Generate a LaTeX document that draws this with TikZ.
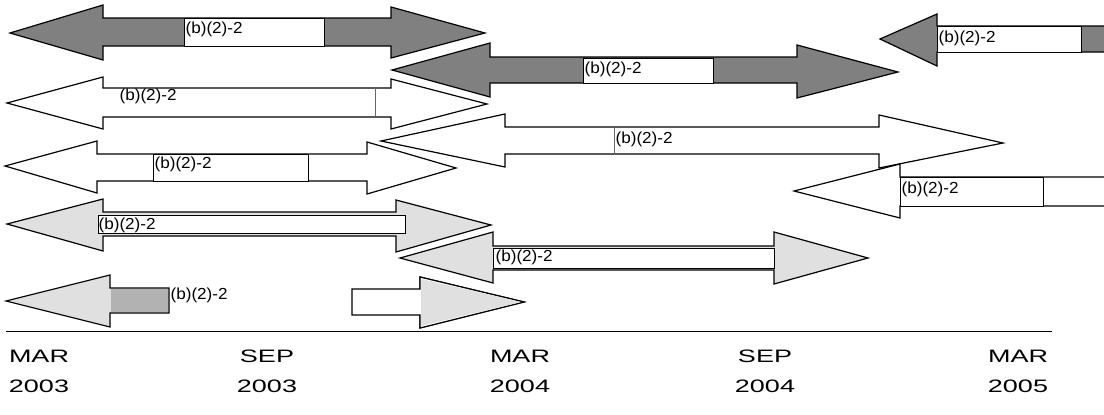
\documentclass[tikz,border=0pt]{standalone}
\usepackage{fontspec}
\newfontfamily\tagfont{Liberation Sans}[FakeStretch=1.07]
\newfontfamily\axisfont{Liberation Sans}[FakeStretch=1.5]

\begin{document}
\begin{tikzpicture}[x=1pt,y=-1pt,line width=1.2pt,node distance=30pt,
  dark/.style={draw,fill=black!50},
  light/.style={draw,fill=black!12},
  plain/.style={draw,fill=white},
  box/.style={draw,fill=white,line width=0.6pt},
  tag/.style={anchor=west,inner sep=1pt,font=\tagfont\fontsize{16}{16}\selectfont},
  axis/.style={inner sep=0pt,font=\axisfont\fontsize{18}{18}\selectfont}]
  \clip (0,0) rectangle (1104,415);
  \fill[white] (0,0) rectangle (1104,415);

  % top row, dark
  \path[dark] (10,33) -- (103,5) -- (103,18) -- (391,18) -- (391,7) -- (485,33)
    -- (391,58) -- (391,46) -- (103,46) -- (103,60) -- cycle;
  \path[box] (184,18) rectangle (324,46);
  \node[tag] (t1) at (184,29) {(b)(2)-2};

  \path[dark] (392,70) -- (490,43) -- (490,57) -- (797,57) -- (797,45) -- (898,72)
    -- (797,98) -- (797,83) -- (490,83) -- (490,97) -- cycle;
  \path[box] (583,58) rectangle (713,83);
  \node[tag] (t2) at (583,69) {(b)(2)-2};

  \path[dark] (880,39) -- (937,14) -- (937,26) -- (1120,26) -- (1120,52)
    -- (937,52) -- (937,66) -- cycle;
  \path[box] (937,26) rectangle (1081,52);
  \node[tag] (t3) at (937,38) {(b)(2)-2};

  % white ones
  \path[plain] (7,103) -- (103,77) -- (103,88) -- (391,88) -- (391,79) -- (487,104)
    -- (391,129) -- (391,117) -- (103,117) -- (103,129) -- cycle;
  \draw[line width=0.6pt,black!60] (375,88) -- (375,117);
  \node[tag] (t4) at (118,96) {(b)(2)-2};

  \path[plain] (381,141) -- (505,114) -- (505,127) -- (879,127) -- (879,115) -- (1003,143)
    -- (879,168) -- (879,154) -- (505,154) -- (505,167) -- cycle;
  \draw[line width=0.6pt,black!60] (614,127) -- (614,154);
  \node[tag] (t5) at (614,139) {(b)(2)-2};

  \path[plain] (5,166) -- (97,141) -- (97,154) -- (367,154) -- (367,142) -- (456,168)
    -- (367,194) -- (367,181) -- (97,181) -- (97,193) -- cycle;
  \path[box] (153,154) rectangle (308,181);
  \node[tag] (t6) at (153,164) {(b)(2)-2};

  \path[plain] (794,191) -- (900,164) -- (900,177) -- (1120,177) -- (1120,206)
    -- (900,206) -- (900,218) -- cycle;
  \path[box] (900,177) rectangle (1043,206);
  \node[tag] (t7) at (900,189) {(b)(2)-2};

  % light ones
  \path[light] (7,224) -- (103,199) -- (103,212) -- (396,212) -- (396,200) -- (491,225)
    -- (396,252) -- (396,236) -- (103,236) -- (103,251) -- cycle;
  \path[box] (98,215) rectangle (405,233);
  \node[tag] (t8) at (97,225) {(b)(2)-2};

  \path[light] (400,258) -- (493,232) -- (493,246) -- (774,246) -- (774,232) -- (868,258)
    -- (774,284) -- (774,270) -- (493,270) -- (493,283) -- cycle;
  \path[box] (493,248) rectangle (774,268);
  \node[tag] (t9) at (494,257) {(b)(2)-2};

  \path[light] (6,301) -- (110,275) -- (110,288) -- (169,288) -- (169,313)
    -- (110,313) -- (110,327) -- cycle;
  \fill[black!30] (111,289) rectangle (168,312);
  \node[tag] (t10) at (169,295) {(b)(2)-2};

  \path[light] (420,277) -- (524,302) -- (420,328) -- cycle;
  \path[plain] (352,289) -- (420,289) -- (420,277) -- (524,302) -- (420,328) -- (420,315)
    -- (352,315) -- cycle;
  \fill[black!12] (421,279) -- (521,302) -- (421,326) -- cycle;

  % time axis
  \draw (6,331.5) -- (1052,331.5);
  \node[axis] (m1) at (39,356) {MAR};
  \node[axis] (y1) [below of=m1] {2003};
  \node[axis] (m2) at (267,356) {SEP};
  \node[axis] (y2) [below of=m2] {2003};
  \node[axis] (m3) at (520,356) {MAR};
  \node[axis] (y3) [below of=m3] {2004};
  \node[axis] (m4) at (765,356) {SEP};
  \node[axis] (y4) [below of=m4] {2004};
  \node[axis] (m5) at (1018,356) {MAR};
  \node[axis] (y5) [below of=m5] {2005};
\end{tikzpicture}
\end{document}
